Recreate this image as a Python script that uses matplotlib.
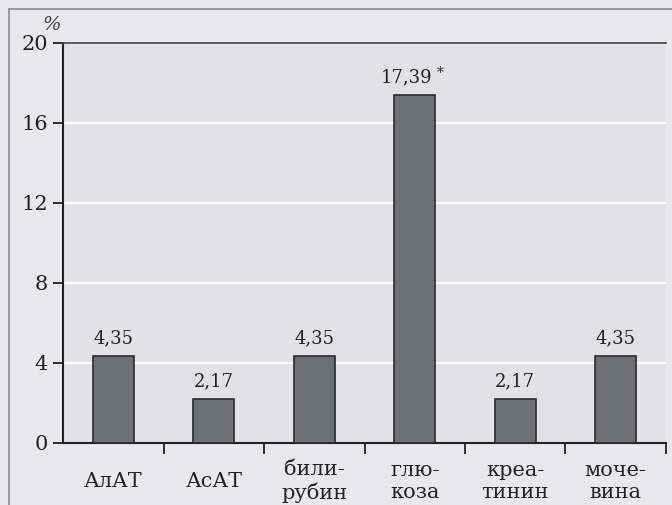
import matplotlib.pyplot as plt
import matplotlib.patches as mpatches

plt.rcParams['font.family'] = ['DejaVu Serif']

categories = ['АлАТ', 'АсАТ', 'били-\nрубин', 'глю-\nкоза', 'креа-\nтинин', 'моче-\nвина']
values = [4.35, 2.17, 4.35, 17.39, 2.17, 4.35]
labels = ['4,35', '2,17', '4,35', '17,39', '2,17', '4,35']
notes = ['', '', '', '*', '', '']
yticks = [0, 4, 8, 12, 16, 20]

fig = plt.figure(figsize=(6.72, 5.05), dpi=100, facecolor='#e8e8ed')
ax = fig.add_axes([0.094, 0.123, 0.897, 0.792])
ax.set_facecolor('#e1e1e7')

# outer frame of the scan
fig.patches.append(mpatches.Rectangle((0.013, -0.02), 1.0, 1.002, transform=fig.transFigure,
                                      fill=False, edgecolor='#8a8a90', linewidth=1.2))

x = range(len(categories))
ax.bar(x, values, width=0.41, color='#6f6f78', edgecolor='#2a2a2e', linewidth=1.2, zorder=3)

for xi, v, lab, n in zip(x, values, labels, notes):
    ax.text(xi - 0.08 * bool(n), v + 0.45, lab, ha='center', va='bottom', fontsize=13,
            color='#222222', zorder=4)
    if n:
        ax.text(xi + 0.22, v + 1.1, n, ha='left', va='center', fontsize=10,
                color='#333333', zorder=4)

ax.set_xlim(-0.5, 5.5)
ax.set_ylim(0, 20)
ax.set_yticks(yticks)
ax.set_yticklabels([str(t) for t in yticks], fontsize=15)
for t in yticks[1:-1]:
    ax.axhline(t, color='white', linewidth=1.5, zorder=1)

# ticks between categories on the x axis
ax.set_xticks([i + 0.5 for i in range(6)])
ax.set_xticklabels([])
ax.tick_params(axis='x', direction='out', length=8, width=1.3, colors='#222222')
ax.tick_params(axis='y', direction='out', length=7, width=1.3, colors='#222222', pad=4)
for xi, c in zip(x, categories):
    ax.text(xi, -1.95, c, ha='center', va='center', fontsize=15, color='#222222', linespacing=1.2)

for s in ['left', 'bottom']:
    ax.spines[s].set_linewidth(1.5)
    ax.spines[s].set_color('#222222')
ax.spines['top'].set_color('#444444')
ax.spines['top'].set_linewidth(1.2)
ax.spines['right'].set_visible(False)

fig.text(0.077, 0.95, '%', fontsize=14, color='#444444', ha='center', va='center', style='italic')

plt.savefig('out.png', dpi=100, facecolor=fig.get_facecolor())
